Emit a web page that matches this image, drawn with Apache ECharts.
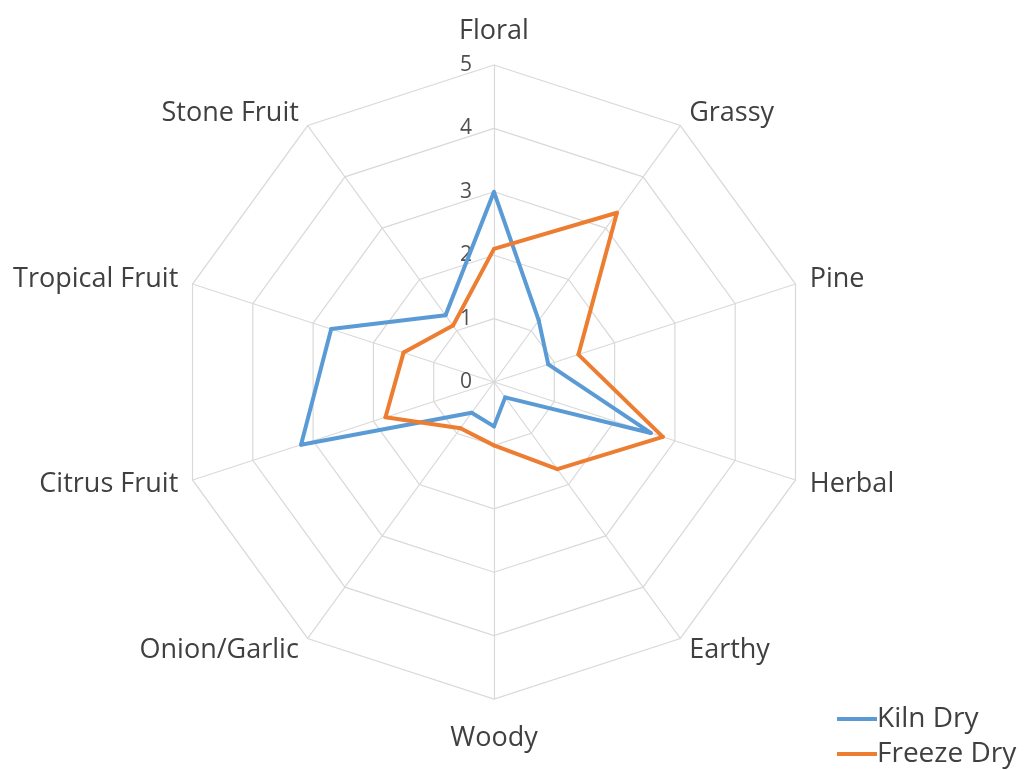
<!DOCTYPE html>
<html lang="en">
<head>
<meta charset="UTF-8">
<title>Aroma profile</title>
<script type="text/javascript" src="https://cdn.jsdelivr.net/npm/echarts@6/dist/echarts.min.js"></script>
<style>
	html,body{height:100%;margin:0;background:#fff;}
	#main{width:1030px;height:770px;}
</style>
</head>
<body>
	<div id="main"></div>
	<script type="text/javascript">
		// attributes, clockwise from the top
		var attributes = ['Floral', 'Grassy', 'Pine', 'Herbal', 'Earthy', 'Woody',
			'Onion/Garlic', 'Citrus Fruit', 'Tropical Fruit', 'Stone Fruit'];
		var kilnDry   = [3.0, 1.2, 0.9, 2.6, 0.3, 0.7, 0.6, 3.2, 2.7, 1.3];
		var freezeDry = [2.1, 3.3, 1.4, 2.8, 1.7, 1.0, 0.9, 1.8, 1.5, 1.1];
		var scaleMax = 5;

		// echarts lays radar axes out counter-clockwise, so keep the first
		// one on top and reverse the rest
		function clockwise(arr){
			return [arr[0]].concat(arr.slice(1).reverse());
		}

		var indicators = [];
		var names = clockwise(attributes);
		for (var i = 0; i < names.length; i++) {
			var ind = { name: names[i], min: 0, max: scaleMax };
			// only the vertical axis carries the tick numbers
			if (i == 0) {
				ind.axisLabel = { show: true };
				ind.nameGap = 20;
			}
			if (names[i] == 'Woody') ind.nameGap = 26;
			indicators.push(ind);
		}

		var myChart = echarts.init(document.getElementById('main'));
		var option = {
			backgroundColor: '#fff',
			color: ['#5b9bd5', '#ed7d31'],
			legend: {
				orient: 'vertical',
				left: 837,
				bottom: 0,
				padding: 0,
				icon: 'rect',
				itemWidth: 40,
				itemHeight: 4,
				itemGap: 3,
				textStyle: { color: '#404040', fontSize: 28, lineHeight: 32, fontFamily: 'Open Sans', padding: [0, 0, 0, -5] },
				data: ['Kiln Dry', 'Freeze Dry']
			},
			radar: {
				center: [494, 382],
				radius: 317,
				startAngle: 90,
				shape: 'polygon',
				splitNumber: 5,
				nameGap: 15,
				axisName: { color: '#404040', fontSize: 27, fontFamily: 'Open Sans' },
				axisLine: { lineStyle: { color: '#d9d9d9', width: 1.2 } },
				splitLine: { lineStyle: { color: '#d9d9d9', width: 1.2 } },
				splitArea: { show: false },
				axisTick: { show: false },
				axisLabel: { show: false, color: '#505050', fontSize: 21, fontFamily: 'Open Sans', margin: 22 },
				indicator: indicators
			},
			series: [{
				type: 'radar',
				symbol: 'circle',
				symbolSize: 4,
				lineStyle: { width: 4 },
				data: [
					{ name: 'Kiln Dry', value: clockwise(kilnDry) },
					{ name: 'Freeze Dry', value: clockwise(freezeDry) }
				]
			}]
		};
		myChart.setOption(option);
	</script>
</body>
</html>
